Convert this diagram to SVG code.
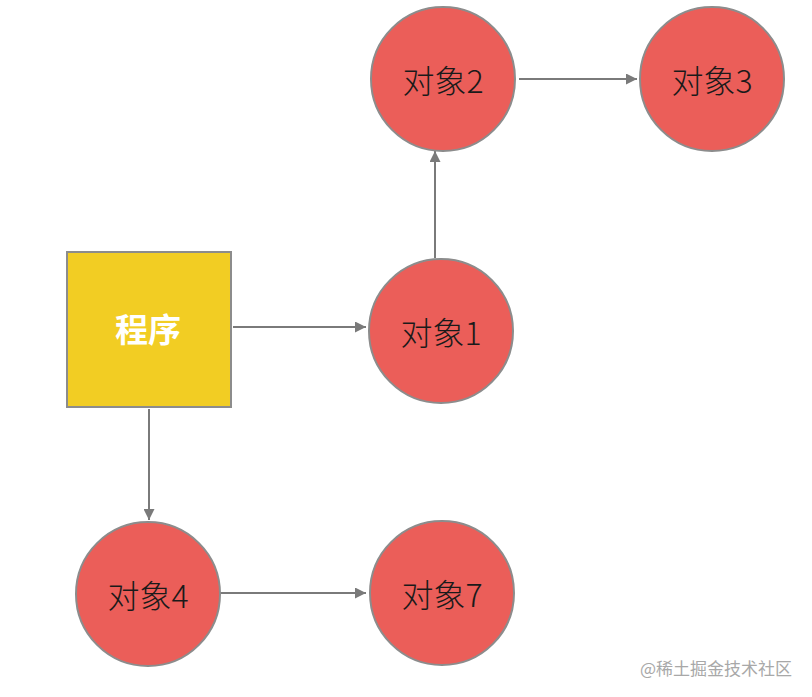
<svg xmlns="http://www.w3.org/2000/svg" width="812" height="697" viewBox="0 0 812 697">
<style>
.obj{fill:#EB5E59;stroke:#8C8C8C;stroke-width:2}
.prog{fill:#F2CD23;stroke:#8C8C8C;stroke-width:2}
.lbl{font-family:"Noto Sans CJK SC","Noto Sans",sans-serif;font-size:32px;font-weight:300;fill:#1a1a1a;text-anchor:middle;dominant-baseline:central}
.plbl{font-family:"Noto Sans CJK SC","Noto Sans",sans-serif;font-size:33px;font-weight:bold;fill:#ffffff;text-anchor:middle;dominant-baseline:central}
.edge{stroke:#7A7A7A;stroke-width:2;fill:none;marker-end:url(#ah)}
.wm{font-family:"Noto Sans CJK SC","Noto Sans",sans-serif;font-size:17px;fill:#A8A8A8}
</style>
<defs>
<marker id="ah" viewBox="0 0 10 10" refX="10" refY="5" markerWidth="11" markerHeight="11" markerUnits="userSpaceOnUse" orient="auto">
<path d="M0,0 L10,5 L0,10 z" fill="#7A7A7A"/>
</marker>
</defs>
<rect width="812" height="697" fill="#ffffff"/>
<g id="connectors">
<line class="edge" x1="233" y1="327" x2="366" y2="327"/>
<line class="edge" x1="435" y1="258" x2="435" y2="151"/>
<line class="edge" x1="519" y1="79" x2="637" y2="79"/>
<line class="edge" x1="149" y1="409" x2="149" y2="520"/>
<line class="edge" x1="219" y1="593" x2="366" y2="593"/>
</g>
<g id="program">
<rect class="prog" x="67" y="252" width="164" height="155"/>
<text class="plbl" x="148" y="328">程序</text>
</g>
<g id="obj1">
<circle class="obj" cx="441" cy="331" r="72"/>
<text class="lbl" x="441" y="331">对象1</text>
</g>
<g id="obj2">
<circle class="obj" cx="443" cy="79" r="72"/>
<text class="lbl" x="443" y="79">对象2</text>
</g>
<g id="obj3">
<circle class="obj" cx="712" cy="79" r="72"/>
<text class="lbl" x="712" y="79">对象3</text>
</g>
<g id="obj4">
<circle class="obj" cx="148" cy="594" r="72"/>
<text class="lbl" x="148" y="594">对象4</text>
</g>
<g id="obj7">
<circle class="obj" cx="442" cy="593" r="72"/>
<text class="lbl" x="442" y="593">对象7</text>
</g>
<text class="wm" x="640" y="675">@稀土掘金技术社区</text>
</svg>
